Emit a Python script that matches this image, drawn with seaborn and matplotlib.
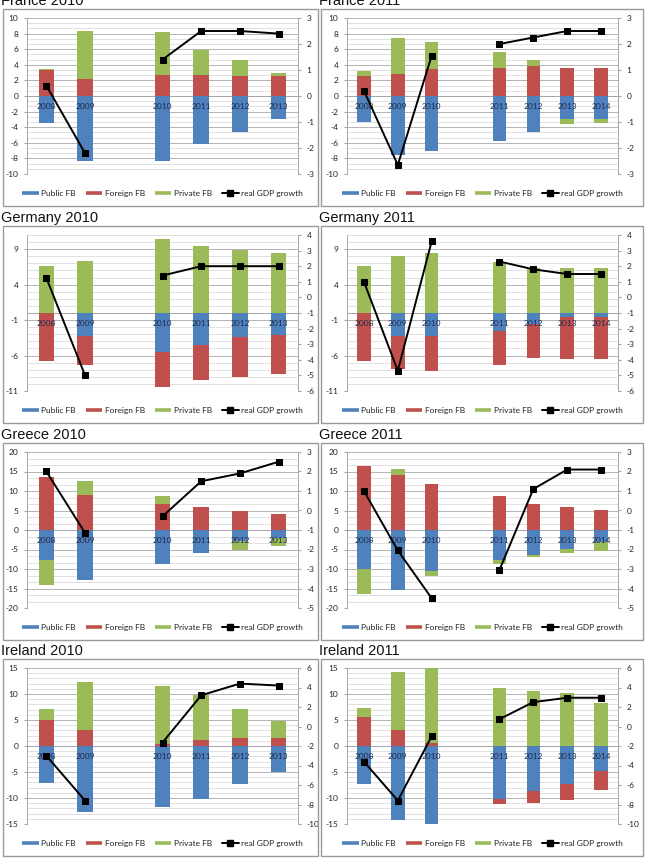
import matplotlib
matplotlib.use("Agg")
import matplotlib.pyplot as plt
import seaborn as sns
import numpy as np
import pandas as pd
from matplotlib.lines import Line2D
from matplotlib.patches import Rectangle

sns.set_style("white")
plt.rcParams['font.family'] = ['Lato', 'DejaVu Sans']
plt.rcParams['axes.unicode_minus'] = False

# Categories (blank slot separates outturn years from forecast years)
years_2010 = ['2008', '2009', '', '2010', '2011', '2012', '2013']
years_2011 = ['2008', '2009', '2010', '', '2011', '2012', '2013', '2014']

series_names = ['Public FB', 'Foreign FB', 'Private FB']
line_name = 'real GDP growth'

# France
fr10_public = [-3.4, -8.3, None, -8.3, -6.1, -4.6, -3.0]
fr10_foreign = [3.3, 2.2, None, 2.7, 2.7, 2.6, 2.6]
fr10_private = [0.1, 6.1, None, 5.5, 3.2, 2.0, 0.3]
fr10_gdp = [0.4, -2.2, None, 1.4, 2.5, 2.5, 2.4]

fr11_public = [-3.3, -7.6, -7.1, None, -5.8, -4.6, -3.0, -2.9]
fr11_foreign = [2.6, 2.85, 3.45, None, 3.6, 3.8, 3.65, 3.65]
fr11_private = [0.6, 4.6, 3.5, None, 2.1, 0.8, -0.6, -0.55]
fr11_gdp = [0.2, -2.65, 1.55, None, 2.0, 2.25, 2.5, 2.5]

# Germany
de10_public = [0.0, -3.3, None, -5.5, -4.5, -3.4, -3.1]
de10_foreign = [-6.7, -4.0, None, -4.9, -5.0, -5.6, -5.5]
de10_private = [6.6, 7.4, None, 10.4, 9.5, 8.9, 8.5]
de10_gdp = [1.25, -5.0, None, 1.4, 2.0, 2.0, 2.0]

de11_public = [0.0, -3.2, -3.2, None, -2.6, -1.5, -0.6, -0.6]
de11_foreign = [-6.8, -4.7, -5.0, None, -4.7, -4.8, -5.9, -5.9]
de11_private = [6.6, 8.0, 8.4, None, 7.2, 6.4, 6.4, 6.4]
de11_gdp = [1.0, -4.7, 3.6, None, 2.3, 1.8, 1.5, 1.5]

# Greece
gr10_public = [-7.7, -12.7, None, -8.8, -5.8, -2.7, -2.0]
gr10_foreign = [13.7, 8.9, None, 6.6, 5.8, 4.9, 4.0]
gr10_private = [-6.3, 3.7, None, 2.2, 0.0, -2.3, -2.0]
gr10_gdp = [2.0, -1.15, None, -0.3, 1.5, 1.9, 2.5]

gr11_public = [-10.0, -15.4, -10.6, None, -7.8, -6.5, -4.8, -3.1]
gr11_foreign = [16.3, 14.0, 11.7, None, 8.6, 6.7, 5.8, 5.2]
gr11_private = [-6.4, 1.6, -1.1, None, -0.8, -0.3, -1.1, -2.2]
gr11_gdp = [1.0, -2.05, -4.5, None, -3.05, 1.1, 2.1, 2.1]

# Ireland
ie10_public = [-7.2, -12.6, None, -11.8, -10.1, -7.4, -5.0]
ie10_foreign = [5.0, 3.0, None, 0.45, 1.2, 1.6, 1.6]
ie10_private = [2.1, 9.4, None, 11.1, 8.7, 5.5, 3.2]
ie10_gdp = [-3.0, -7.6, None, -1.65, 3.2, 4.4, 4.2]

ie11_public = [-7.4, -14.3, -16.0, None, -10.2, -8.6, -7.4, -4.8]
ie11_foreign = [5.5, 3.0, 0.65, None, -1.0, -2.3, -2.9, -3.7]
ie11_private = [1.8, 11.2, 15.0, None, 11.1, 10.5, 10.1, 8.3]
ie11_gdp = [-3.6, -7.6, -1.0, None, 0.75, 2.5, 2.95, 2.95]

colors = ['#4F81BD', '#C0504D', '#9BBB59']

# axis settings per country: left limits/ticks, right limits/ticks, number of light grid lines
axis_specs = {
    'France': dict(left=(-10, 10), lticks=list(range(-10, 11, 2)),
                   right=(-3, 3), rticks=list(range(-3, 4, 1)), ngrid=30),
    'Germany': dict(left=(-11, 11), lticks=[-11, -6, -1, 4, 9],
                    right=(-6, 4), rticks=list(range(-6, 5, 1)), ngrid=22),
    'Greece': dict(left=(-20, 20), lticks=list(range(-20, 21, 5)),
                   right=(-5, 3), rticks=list(range(-5, 4, 1)), ngrid=24),
    'Ireland': dict(left=(-15, 15), lticks=list(range(-15, 16, 5)),
                    right=(-10, 6), rticks=list(range(-10, 7, 2)), ngrid=30),
}

panels = [
    ('France 2010', 'France', years_2010, [fr10_public, fr10_foreign, fr10_private], fr10_gdp),
    ('France 2011', 'France', years_2011, [fr11_public, fr11_foreign, fr11_private], fr11_gdp),
    ('Germany 2010', 'Germany', years_2010, [de10_public, de10_foreign, de10_private], de10_gdp),
    ('Germany 2011', 'Germany', years_2011, [de11_public, de11_foreign, de11_private], de11_gdp),
    ('Greece 2010', 'Greece', years_2010, [gr10_public, gr10_foreign, gr10_private], gr10_gdp),
    ('Greece 2011', 'Greece', years_2011, [gr11_public, gr11_foreign, gr11_private], gr11_gdp),
    ('Ireland 2010', 'Ireland', years_2010, [ie10_public, ie10_foreign, ie10_private], ie10_gdp),
    ('Ireland 2011', 'Ireland', years_2011, [ie11_public, ie11_foreign, ie11_private], ie11_gdp),
]

W, H = 645, 861
fig = plt.figure(figsize=(W / 100, H / 100), dpi=100)
fig.patch.set_facecolor('white')

row_off = [0, 217, 434, 650]
plot_left = [27, 347]
box_x = [(3, 318), (321, 643)]
grey = '#a6a6a6'


def fx(px):
    return px / W


def fy(py):
    return 1 - py / H


def draw_panel(i, title, country, cats, parts, gdp):
    col, row = i % 2, i // 2
    off = row_off[row]
    spec = axis_specs[country]

    # frame and title
    bx0, bx1 = box_x[col]
    fig.add_artist(Rectangle((fx(bx0), fy(off + 206)), fx(bx1 - bx0), (206 - 9) / H,
                             transform=fig.transFigure, fill=False,
                             edgecolor='#9a9a9a', lw=1.0))
    fig.text(fx(bx0 - 2), fy(off + 5), title, fontsize=10.5, va='baseline', ha='left',
             family=['Liberation Sans', 'DejaVu Sans'], color='#111111')

    ax = fig.add_axes([fx(plot_left[col]), fy(off + 174), 271 / W, 156 / H])
    ax2 = ax.twinx()
    n = len(cats)
    x = np.arange(n)
    lo, hi = spec['left']

    # gridlines
    for v in np.linspace(lo, hi, spec['ngrid'] + 1):
        ax.axhline(v, color='#dcdcdc', lw=0.6, zorder=0.2)
    for v in spec['lticks']:
        ax.axhline(v, color='#b4b4b4', lw=0.7, zorder=0.3)

    # stacked bars: positives stack up, negatives stack down
    pos = np.zeros(n)
    neg = np.zeros(n)
    for vals, c in zip(parts, colors):
        v = np.nan_to_num(np.array(vals, dtype=float))
        bottom = np.where(v >= 0, pos, neg)
        ax.bar(x, v, width=0.4, bottom=bottom, color=c, zorder=1, linewidth=0)
        pos += np.where(v >= 0, v, 0)
        neg += np.where(v < 0, v, 0)

    # GDP line, broken at the blank category
    g = np.array(gdp, dtype=float)
    df = pd.DataFrame({'pos': x, 'gdp': g, 'seg': np.cumsum(np.isnan(g))}).dropna()
    sns.lineplot(data=df, x='pos', y='gdp', units='seg', estimator=None, ax=ax2,
                 color='black', lw=1.4, marker='s', markersize=4.5,
                 markeredgecolor='black', legend=False)
    ax2.set_xlabel('')
    ax2.set_ylabel('')

    ax.set_xlim(-0.5, n - 0.5)
    ax.set_ylim(lo, hi)
    ax2.set_ylim(*spec['right'])

    ax.set_yticks(spec['lticks'])
    ax.set_yticklabels([f'{t:g}' for t in spec['lticks']])
    ax2.set_yticks(spec['rticks'])
    ax2.set_yticklabels([f'{t:g}' for t in spec['rticks']])

    ax.set_xticks(x)
    ax.set_xticklabels(cats)
    ax.set_xticks(np.arange(n + 1) - 0.5, minor=True)
    ax.set_axisbelow(False)
    ax.grid(False)
    ax2.grid(False)

    ax.tick_params(axis='x', which='major', length=0, pad=5, labelsize=6, labelcolor='#1f2d4d')
    ax.tick_params(axis='x', which='minor', length=2.2, color=grey, direction='out')
    ax.tick_params(axis='y', left=True, length=2.2, color=grey, pad=4, labelsize=6,
                   labelcolor='#222222')
    ax2.tick_params(axis='y', right=True, length=2.2, color=grey, pad=4, labelsize=6,
                    labelcolor='#222222')

    for s in ['top', 'right']:
        ax.spines[s].set_visible(False)
    ax.spines['bottom'].set_position(('data', 0))
    ax.spines['bottom'].set_color(grey)
    ax.spines['bottom'].set_linewidth(0.7)
    ax.spines['bottom'].set_zorder(0.5)
    ax.spines['left'].set_color(grey)
    ax.spines['left'].set_linewidth(0.7)
    for s in ['top', 'left', 'bottom']:
        ax2.spines[s].set_visible(False)
    ax2.spines['right'].set_color(grey)
    ax2.spines['right'].set_linewidth(0.7)

    handles = [Line2D([], [], color=c, lw=2.6, solid_capstyle='butt') for c in colors]
    handles.append(Line2D([], [], color='black', lw=1.4, marker='s', markersize=4.5))
    ax2.legend(handles, series_names + [line_name], loc='center',
               bbox_to_anchor=(0.5, -0.122), ncol=4, frameon=False, fontsize=6,
               handlelength=2.0, columnspacing=1.2, handletextpad=0.3,
               borderaxespad=0, labelcolor='#222222')


for i, (title, country, cats, parts, gdp) in enumerate(panels):
    draw_panel(i, title, country, cats, parts, gdp)

fig.savefig('out.png', dpi=100, facecolor='white')
